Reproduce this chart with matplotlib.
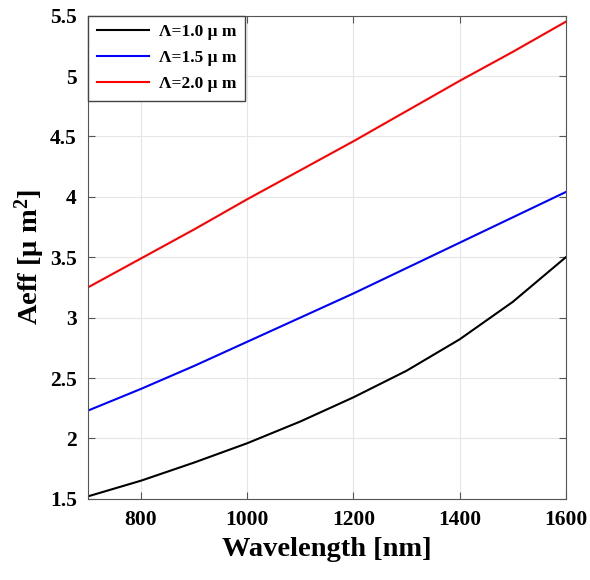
import matplotlib
matplotlib.use('Agg')
from matplotlib import pyplot as plt

wavelength = [700, 800, 900, 1000, 1100, 1200, 1300, 1400, 1500, 1600]
aeff_10 = [1.52, 1.65, 1.80, 1.96, 2.14, 2.34, 2.56, 2.82, 3.13, 3.50]
aeff_15 = [2.23, 2.41, 2.60, 2.80, 3.00, 3.20, 3.41, 3.62, 3.83, 4.04]
aeff_20 = [3.25, 3.49, 3.73, 3.98, 4.22, 4.46, 4.71, 4.96, 5.20, 5.45]
labels = ['\u039b=1.0 \u03bc m', '\u039b=1.5 \u03bc m', '\u039b=2.0 \u03bc m']

plt.rcParams['font.family'] = 'Liberation Serif'
plt.rcParams['font.weight'] = 'bold'
plt.rcParams['mathtext.fontset'] = 'custom'
plt.rcParams['mathtext.rm'] = 'Liberation Serif:bold'
plt.rcParams['mathtext.it'] = 'Liberation Serif:bold'
plt.rcParams['mathtext.bf'] = 'Liberation Serif:bold'

fig = plt.figure(figsize=(5.9, 5.8), dpi=100)
ax = fig.add_axes([0.149, 0.140, 0.810, 0.833])

ax.plot(wavelength, aeff_10, color='black', lw=1.5, label=labels[0])
ax.plot(wavelength, aeff_15, color='#0000ff', lw=1.5, label=labels[1])
ax.plot(wavelength, aeff_20, color='#ff0000', lw=1.5, label=labels[2])

ax.set_xlim(700, 1600)
ax.set_ylim(1.5, 5.5)
ax.set_xticks([800, 1000, 1200, 1400, 1600])
ax.set_yticks([1.5, 2, 2.5, 3, 3.5, 4, 4.5, 5, 5.5])
ax.set_yticklabels(['1.5', '2', '2.5', '3', '3.5', '4', '4.5', '5', '5.5'])
ax.grid(True, color='#e6e6e6', lw=0.8)
ax.tick_params(direction='in', top=True, right=True, labelsize=15.5,
               length=5, color='#555555', pad=8)
for s in ax.spines.values():
    s.set_color('#555555')

ax.set_xlabel('Wavelength [nm]', fontsize=20.5, fontweight='bold', labelpad=5)
ax.set_ylabel('Aeff [\u03bc m$^{2}$]', fontsize=20.5, fontweight='bold', labelpad=2)

leg = ax.legend(loc='upper left', fontsize=12.5, borderaxespad=0, fancybox=False,
                framealpha=1, edgecolor='#444444', handlelength=3.0,
                borderpad=0.5, labelspacing=0.55, handletextpad=0.6)
leg.get_frame().set_linewidth(1.0)

fig.savefig('out.png', dpi=100)
